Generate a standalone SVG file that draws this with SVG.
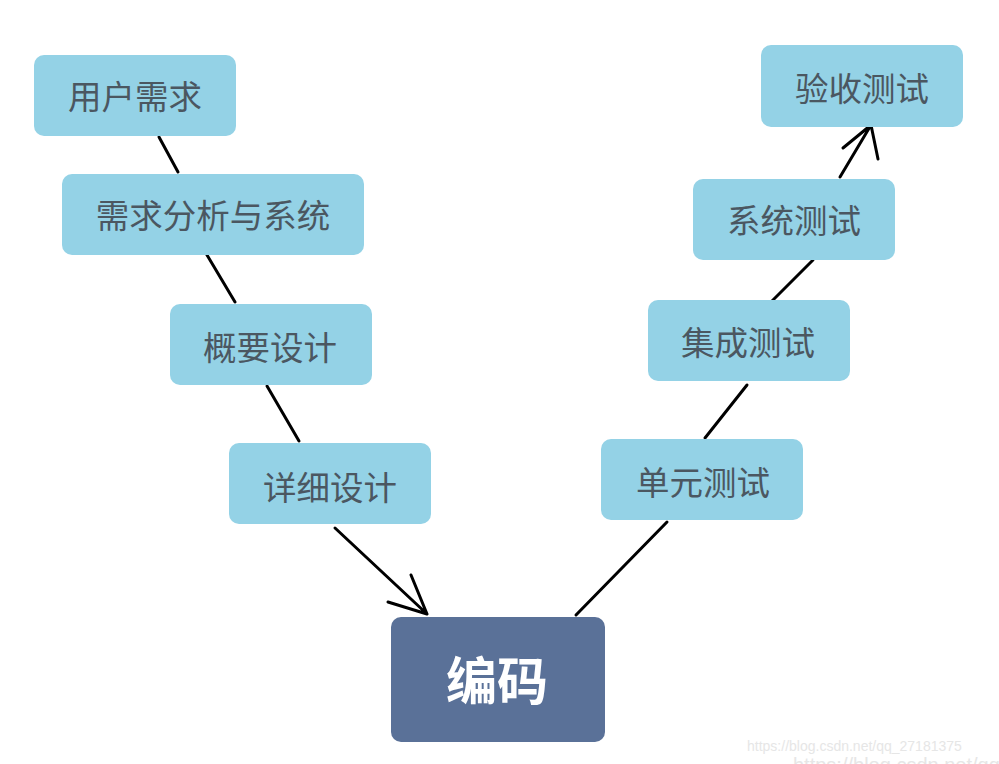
<svg xmlns="http://www.w3.org/2000/svg" width="999" height="764" viewBox="0 0 999 764">
<style>
.n{fill:#94d2e6}
.t{font-family:"Noto Sans CJK SC","Noto Sans",sans-serif;font-size:33.5px;fill:#4b5761;text-anchor:middle;dominant-baseline:central}
.c{stroke:#000;stroke-width:3;fill:none;stroke-linecap:round;stroke-linejoin:round}
.w{font-family:"Liberation Sans",Arial,sans-serif;fill:#e6e6e6}
</style>
<rect width="999" height="764" fill="#fff"/>
<g id="connectors">
<path class="c" d="M159,137 L178,172"/>
<path class="c" d="M207,255 L235,302"/>
<path class="c" d="M267,386 L299,441"/>
<path class="c" d="M335,528 L427,614 M411,575 L427,614 L388,602"/>
<path class="c" d="M576,615 L667,522"/>
<path class="c" d="M705,438 L747,385"/>
<path class="c" d="M771,302 L813,260"/>
<path class="c" d="M840,177 L871,125 M843,148 L871,125 L878,159"/>
</g>
<g id="n1"><rect class="n" x="34" y="55" width="202" height="81" rx="10"/><text class="t" x="135" y="94">用户需求</text></g>
<g id="n2"><rect class="n" x="62" y="174" width="302" height="81" rx="10"/><text class="t" x="213" y="213">需求分析与系统</text></g>
<g id="n3"><rect class="n" x="170" y="304" width="202" height="81" rx="10"/><text class="t" x="270" y="345">概要设计</text></g>
<g id="n4"><rect class="n" x="229" y="443" width="202" height="81" rx="10"/><text class="t" x="330" y="485">详细设计</text></g>
<g id="n5"><rect x="391" y="617" width="214" height="125" rx="10" fill="#5a7198"/><text class="t" x="497" y="678" style="fill:#fff;font-size:51px;font-weight:bold">编码</text></g>
<g id="n6"><rect class="n" x="601" y="439" width="202" height="81" rx="10"/><text class="t" x="703" y="480">单元测试</text></g>
<g id="n7"><rect class="n" x="648" y="300" width="202" height="81" rx="10"/><text class="t" x="748" y="340">集成测试</text></g>
<g id="n8"><rect class="n" x="693" y="179" width="202" height="81" rx="10"/><text class="t" x="794" y="218">系统测试</text></g>
<g id="n9"><rect class="n" x="761" y="45" width="202" height="82" rx="10"/><text class="t" x="862" y="86">验收测试</text></g>
<text class="w" x="747" y="751" font-size="14">https://blog.csdn.net/qq_27181375</text>
<text class="w" x="793" y="772" font-size="20" fill="#f0f0f0">https://blog.csdn.net/qq</text>
</svg>
